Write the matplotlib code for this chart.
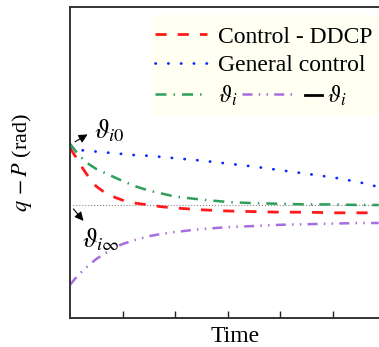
import matplotlib
matplotlib.use("Agg")
import matplotlib.pyplot as plt
from matplotlib.lines import Line2D
from matplotlib.patches import Rectangle

plt.rcParams['font.family'] = ['Liberation Serif', 'DejaVu Serif']
plt.rcParams['mathtext.fontset'] = 'stix'

# (time in tick units, angle relative to the steady value)
t = [0, 0.125, 0.25, 0.375, 0.5, 0.625, 0.75, 0.875, 1.0, 1.25, 1.5, 1.75, 2.0,
     2.5, 3.0, 3.5, 4.0, 4.5, 5.0, 5.5, 5.87]
ddcp = [0.95, 0.78, 0.60, 0.44, 0.31, 0.23, 0.17, 0.12, 0.08, 0.03, 0.0, -0.03, -0.05,
        -0.08, -0.10, -0.11, -0.12, -0.12, -0.13, -0.13, -0.13]
general = [0.94, 0.92, 0.91, 0.90, 0.89, 0.88, 0.87, 0.86, 0.85, 0.83, 0.82, 0.80, 0.78,
           0.74, 0.69, 0.64, 0.58, 0.52, 0.46, 0.38, 0.30]
theta = [1.02, 0.88, 0.76, 0.67, 0.60, 0.55, 0.50, 0.45, 0.40, 0.31, 0.24, 0.19, 0.14,
         0.09, 0.05, 0.03, 0.02, 0.01, 0.01, 0.0, 0.0]
neg_theta = [-1.33, -1.20, -1.09, -0.99, -0.90, -0.83, -0.76, -0.70, -0.65, -0.58, -0.52,
             -0.48, -0.45, -0.40, -0.37, -0.35, -0.33, -0.32, -0.31, -0.30, -0.30]
xticks = [1, 2, 3, 4, 5, 6]

RED, BLUE, GREEN, PURPLE = '#ff1a1a', '#0a2aff', '#2e9e5b', '#a66ee0'
ls_red = (0, (4, 4))
ls_blue = (0, (0.1, 4.5))
ls_green = (0, (4.4, 2.8, 0.6, 2.8))
ls_purple = (0, (4, 2.5, 0.6, 2.5, 0.6, 2.5))

W, H = 379, 347
fig = plt.figure(figsize=(W / 100, H / 100), dpi=100)
ax = fig.add_axes([70 / W, 29 / H, 330 / W, 311 / H])

ax.axhline(0, xmin=0.01, color='#888888', lw=0.8, ls=':')
ax.plot(t, ddcp, color=RED, lw=2, ls=ls_red, label='Control - DDCP')
ax.plot(t, general, color=BLUE, lw=2, ls=ls_blue, dash_capstyle='round',
        label='General control')
ax.plot(t, theta, color=GREEN, lw=1.8, ls=ls_green, label=r'$\vartheta_i$')
ax.plot(t, neg_theta, color=PURPLE, lw=1.8, ls=ls_purple)

ax.set_xlim(0, 330 / 52.6)
ax.set_ylim(-113 / 60, 198 / 60)
ax.set_xticks(xticks)
ax.set_xticklabels([])
ax.set_yticks([])
ax.tick_params(axis='x', direction='in', length=5, width=1, color='#222222')
for s in ['left', 'top', 'bottom', 'right']:
    ax.spines[s].set_linewidth(1.4)
    ax.spines[s].set_color('#333333')

ax.set_xlabel('Time', fontsize=17, labelpad=2)
ax.set_ylabel(r'$q\,-P$ (rad)', fontsize=16, labelpad=26)

# labels for start and end values
ax.annotate('', xy=(0.38, 1.2), xytext=(0.05, 1.03),
            arrowprops=dict(arrowstyle='-|>', color='black', lw=0.8, mutation_scale=13))
ax.text(0.46, 1.23, r'$\vartheta_{\mathit{i0}}$', fontsize=19, va='center', ha='left')
ax.annotate('', xy=(0.29, -0.3), xytext=(0.03, -0.03),
            arrowprops=dict(arrowstyle='-|>', color='black', lw=0.8, mutation_scale=13))
ax.text(0.22, -0.58, r'$\vartheta_{i\infty}$', fontsize=19, va='center', ha='left')

# legend background box (runs off the right edge like the original)
ax.add_patch(Rectangle((152 / W, 1 - 115 / H), 260 / W, 100 / H, transform=fig.transFigure,
                       facecolor='#fffff2', edgecolor='none', zorder=4, clip_on=False))

leg = ax.legend(loc='upper left', bbox_to_anchor=(155 / W, 1 - 26 / H),
                bbox_transform=fig.transFigure, borderaxespad=0, borderpad=0,
                fontsize=17, handlelength=2.2, handletextpad=0.45, labelspacing=0.3,
                frameon=False)
ax.add_artist(leg)
purple = Line2D([], [], color=PURPLE, lw=1.8, ls=ls_purple)
leg2 = ax.legend([purple], [''], loc='center left',
                 bbox_to_anchor=(242 / W, 1 - 96 / H), bbox_transform=fig.transFigure,
                 borderaxespad=0, borderpad=0, fontsize=17, handlelength=2.2,
                 handletextpad=0, frameon=False)
ax.add_artist(leg2)
black = Line2D([], [], color='black', lw=2)
ax.legend([black], [r'$\vartheta_i$'], loc='center left',
          bbox_to_anchor=(305 / W, 1 - 96 / H), bbox_transform=fig.transFigure,
          borderaxespad=0, borderpad=0, fontsize=17, handlelength=0.72,
          handletextpad=0.2, frameon=False)

fig.savefig('out.png', dpi=100)
